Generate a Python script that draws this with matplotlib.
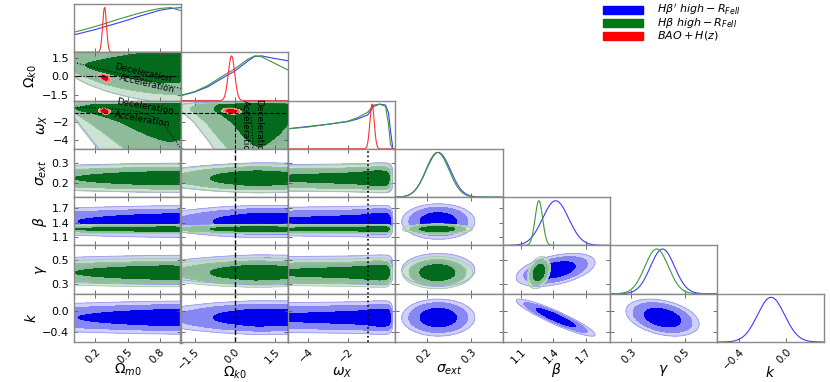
import numpy as np
import matplotlib.pyplot as plt
from matplotlib.patches import Rectangle

plt.rcParams['font.family'] = ['DejaVu Sans']
plt.rcParams['mathtext.fontset'] = 'dejavusans'

# parameters, axis ranges and ticks
names = ['om', 'ok', 'wx', 'sig', 'beta', 'gam', 'k']
axis_labels = [r'$\Omega_{m0}$', r'$\Omega_{k0}$', r'$\omega_X$', r'$\sigma_{ext}$',
               r'$\beta$', r'$\gamma$', r'$k$']
lims = [(0.0, 1.0), (-2.0, 2.0), (-5.0, 0.4), (0.13, 0.37), (0.93, 1.92), (0.22, 0.62), (-0.59, 0.32)]
tick_vals = [[0.2, 0.5, 0.8], [-1.5, 0.0, 1.5], [-4, -2], [0.2, 0.3], [1.1, 1.4, 1.7], [0.3, 0.5], [-0.4, 0.0]]
tick_text = [['0.2', '0.5', '0.8'], ['\u22121.5', '0.0', '1.5'], ['\u22124', '\u22122'], ['0.2', '0.3'],
             ['1.1', '1.4', '1.7'], ['0.3', '0.5'], ['\u22120.4', '0.0']]
cosmo = ['om', 'ok', 'wx']

# 1D marginals of cosmological parameters (quasar samples), read from diagonal, peak = 1
om_grid = [0.0, 0.1, 0.2, 0.3, 0.4, 0.5, 0.6, 0.7, 0.8, 0.9, 1.0]
om_blue = [0.39, 0.45, 0.51, 0.58, 0.65, 0.72, 0.80, 0.87, 0.94, 0.98, 1.0]
om_green = [0.45, 0.51, 0.58, 0.65, 0.73, 0.80, 0.87, 0.93, 0.98, 1.0, 0.93]

ok_grid = [-2.0, -1.5, -1.0, -0.5, 0.0, 0.5, 0.75, 1.0, 1.5, 2.0]
ok_blue = [0.11, 0.19, 0.31, 0.49, 0.66, 0.89, 0.99, 1.0, 0.94, 0.89]
ok_green = [0.12, 0.20, 0.34, 0.53, 0.71, 0.93, 1.0, 0.98, 0.83, 0.68]

wx_grid = [-5.0, -4.0, -3.0, -2.0, -1.5, -1.0, -0.7, -0.4, -0.1, 0.05, 0.15, 0.27, 0.4]
wx_blue = [0.45, 0.50, 0.55, 0.61, 0.67, 0.76, 0.95, 1.0, 0.98, 0.80, 0.40, 0.0, 0.0]
wx_green = [0.45, 0.49, 0.55, 0.62, 0.70, 0.82, 0.98, 1.0, 0.95, 0.55, 0.10, 0.0, 0.0]

cosmo_marg = {'blue': {'om': (om_grid, om_blue), 'ok': (ok_grid, ok_blue), 'wx': (wx_grid, wx_blue)},
              'green': {'om': (om_grid, om_green), 'ok': (ok_grid, ok_green), 'wx': (wx_grid, wx_green)}}

# ridge of the 2D cosmological posteriors: centre and width at the two ends of the x range, plus a broad floor
ridge_c = {('om', 'ok'): (1.2, 0.0), ('om', 'wx'): (-0.45, -2.5), ('ok', 'wx'): (-0.45, -3.0)}
ridge_w = {('om', 'ok'): (0.6, 3.0), ('om', 'wx'): (0.4, 6.0), ('ok', 'wx'): (0.35, 7.0)}
ridge_floor = {('om', 'ok'): 0.12, ('om', 'wx'): 0.25, ('ok', 'wx'): 0.08}

# nuisance parameters (mean, sd)
blue_mu = {'sig': 0.226, 'beta': 1.42, 'gam': 0.417, 'k': -0.13}
blue_sd = {'sig': 0.027, 'beta': 0.12, 'gam': 0.045, 'k': 0.115}
green_mu = {'sig': 0.224, 'beta': 1.265, 'gam': 0.395}
green_sd = {'sig': 0.026, 'beta': 0.035, 'gam': 0.044}
blue_corr = {('beta', 'gam'): 0.45, ('beta', 'k'): -0.92, ('gam', 'k'): -0.35}
green_corr = {('beta', 'gam'): 0.3}

# BAO + H(z)
red_mu = {'om': 0.285, 'ok': -0.12, 'wx': -0.78}
red_sd = {'om': 0.018, 'ok': 0.12, 'wx': 0.11}
red_corr = {('om', 'ok'): -0.5, ('om', 'wx'): -0.2, ('ok', 'wx'): -0.2}

fills = {'blue': [(0.78, 0.78, 0.98, 0.85), (0.51, 0.51, 0.96, 0.95), (0.0, 0.0, 0.93, 1.0)],
         'green': [(0.80, 0.90, 0.80, 0.85), (0.56, 0.75, 0.59, 0.95), (0.02, 0.42, 0.11, 1.0)],
         'red': [(0.96, 0.72, 0.72, 1.0), (0.93, 0.45, 0.45, 1.0), (0.88, 0.0, 0.0, 1.0)]}
edge = {'blue': '#9a9af2', 'green': '#a4cca4', 'red': '#f4a0a0'}
line_col = {'blue': '#3c3cff', 'green': '#3a9a3a', 'red': '#ff3030'}
mass = [0.99, 0.95, 0.68]

legend_colors = ['#0000ff', '#007a10', '#ff0000']
legend_text = [r"$H\beta'\ high - R_{FeII}$", r'$H\beta\ high - R_{FeII}$', r'$BAO + H(z)$']


def gauss(v, m, s):
    return np.exp(-0.5 * ((v - m) / s) ** 2)


def marg(series, p, v):
    if p in cosmo:
        g, d = cosmo_marg[series][p]
        return np.interp(v, g, d)
    if series == 'blue':
        return gauss(v, blue_mu[p], blue_sd[p])
    return gauss(v, green_mu[p], green_sd[p])


def biv(X, Y, mx, my, sx, sy, r):
    u = (X - mx) / sx
    w = (Y - my) / sy
    return np.exp(-(u * u - 2 * r * u * w + w * w) / (2 * (1 - r * r)))


def joint(series, px, py, X, Y):
    if px in cosmo and py in cosmo:
        key = (px, py)
        (x0, x1) = lims[names.index(px)]
        t = (X - x0) / (x1 - x0)
        c = ridge_c[key][0] + t * (ridge_c[key][1] - ridge_c[key][0])
        w = ridge_w[key][0] + t * (ridge_w[key][1] - ridge_w[key][0])
        if series == 'blue':
            w = w * 1.1
        return marg(series, px, X) * marg(series, py, Y) * (gauss(Y, c, w) + ridge_floor[key])
    if px in cosmo:
        return marg(series, px, X) * marg(series, py, Y)
    mu = blue_mu if series == 'blue' else green_mu
    sd = blue_sd if series == 'blue' else green_sd
    cr = blue_corr if series == 'blue' else green_corr
    return biv(X, Y, mu[px], mu[py], sd[px], sd[py], cr.get((px, py), 0.0))


def levels(z):
    flat = np.sort(z.ravel())[::-1]
    cum = np.cumsum(flat)
    cum /= cum[-1]
    return [flat[min(np.searchsorted(cum, f), len(flat) - 1)] for f in mass]


def draw2d(ax, X, Y, Z, series):
    lv = levels(Z) + [Z.max() * 1.01]
    ax.contourf(X, Y, Z, levels=lv, colors=fills[series])
    ax.contour(X, Y, Z, levels=lv[:1], colors=edge[series], linewidths=0.6)


def has(series, p):
    if series == 'red':
        return p in red_mu
    if series == 'green':
        return p in cosmo or p in green_mu
    return True


fig = plt.figure(figsize=(8.3, 3.82), dpi=100)
gs = fig.add_gridspec(7, 7, left=0.0892, right=0.9928, top=0.9895, bottom=0.1047, wspace=0, hspace=0)

for i in range(7):
    for j in range(i + 1):
        ax = fig.add_subplot(gs[i, j])
        px, py = names[j], names[i]
        xl = lims[j]
        ax.set_xlim(xl)
        if i == j:
            for s in ['blue', 'green', 'red']:
                if not has(s, px):
                    continue
                if s == 'red':
                    xs = np.linspace(xl[0], xl[1], 600)
                    ax.plot(xs, gauss(xs, red_mu[px], red_sd[px]), color=line_col[s], lw=0.8)
                elif px in cosmo:
                    g, d = cosmo_marg[s][px]
                    ax.plot(g, d, color=line_col[s], lw=0.8)
                else:
                    xs = np.linspace(xl[0], xl[1], 300)
                    ax.plot(xs, marg(s, px, xs), color=line_col[s], lw=0.8)
            ax.set_ylim(0, 1.08)
            ax.set_yticks([])
            ax.tick_params(axis='x', direction='in', length=3, width=0.6, color='#555555')
        else:
            yl = lims[i]
            ax.set_ylim(yl)
            xs = np.linspace(xl[0], xl[1], 220)
            ys = np.linspace(yl[0], yl[1], 220)
            X, Y = np.meshgrid(xs, ys)
            for s in ['blue', 'green']:
                if has(s, px) and has(s, py):
                    draw2d(ax, X, Y, joint(s, px, py, X, Y), s)
            if has('red', px) and has('red', py):
                rx = np.linspace(red_mu[px] - 5 * red_sd[px], red_mu[px] + 5 * red_sd[px], 150)
                ry = np.linspace(red_mu[py] - 5 * red_sd[py], red_mu[py] + 5 * red_sd[py], 150)
                RX, RY = np.meshgrid(rx, ry)
                RZ = biv(RX, RY, red_mu[px], red_mu[py], red_sd[px], red_sd[py], red_corr[(px, py)])
                draw2d(ax, RX, RY, RZ, 'red')
            ax.set_yticks(tick_vals[i])
            ax.tick_params(direction='in', length=3, width=0.6, color='#555555', top=True, right=True)
            # reference lines
            if (px, py) == ('om', 'ok'):
                ax.axhline(0, color='k', ls='-.', lw=0.8)
                ax.plot([0.0, 1.0], [1.15, -1.0], color='k', ls=':', lw=0.8)
                ax.text(0.64, 0.3, 'Deceleration', rotation=-13, fontsize=6.5, ha='center', va='center')
                ax.text(0.68, -0.65, 'Acceleration', rotation=-13, fontsize=6.5, ha='center', va='center')
            if (px, py) == ('om', 'wx'):
                ax.axhline(-1, color='k', ls='--', lw=0.8)
                ax.plot([0.0, 0.2, 0.4, 0.6, 0.8, 0.9, 1.0], [-0.33, -0.42, -0.56, -0.83, -1.67, -3.3, -5.0],
                        color='k', ls=':', lw=0.8)
                ax.text(0.66, -0.28, 'Deceleration', rotation=-10, fontsize=6.5, ha='center', va='center')
                ax.text(0.64, -1.7, 'Acceleration', rotation=-10, fontsize=6.5, ha='center', va='center')
            if (px, py) == ('ok', 'wx'):
                ax.axvline(0, color='k', ls='--', lw=0.8)
                ax.axhline(-1, color='k', ls='--', lw=0.8)
                ax.plot([0.1, 0.43, 0.55, 0.64, 0.68], [-0.5, -0.7, -1.0, -2.0, -5.0], color='k', ls=':', lw=0.8)
                ax.text(0.38, -2.7, 'Acceleration', rotation=-90, fontsize=6.5, ha='center', va='center')
                ax.text(0.88, -2.7, 'Deceleration', rotation=-90, fontsize=6.5, ha='center', va='center')
            if px == 'ok' and py not in cosmo:
                ax.axvline(0, color='k', ls='--', lw=1.0)
            if px == 'wx' and py not in cosmo:
                ax.axvline(-1, color='k', ls=':', lw=1.2)
        ax.set_xticks(tick_vals[j])
        for sp in ax.spines.values():
            sp.set_color('#888888')
            sp.set_linewidth(1.0)
        if j == 1 and i >= 2:
            ax.spines['right'].set_color('k')
        if j == 0 and i >= 3:
            ax.spines['right'].set_linewidth(2.5)
        if i == 6:
            ax.set_xticklabels(tick_text[j], rotation=45, ha='right', rotation_mode='anchor', fontsize=7.5)
            ax.set_xlabel(axis_labels[j], fontsize=10)
            drop = -0.64 if tick_text[j][0].startswith('\u2212') else -0.58
            ax.xaxis.set_label_coords(0.5, drop)
            ax.xaxis.label.set_va('center')
        else:
            ax.set_xticklabels([])
        if j == 0 and i > 0:
            ax.set_yticklabels(tick_text[i], fontsize=8)
            ax.set_ylabel(axis_labels[i], fontsize=10, labelpad=2)
        elif i != j:
            ax.set_yticklabels([])

# legend: colour bars with labels, top right
for n in range(3):
    yc = 1 - (10 + 13 * n) / 382
    fig.patches.append(Rectangle((603 / 830, yc - 3.5 / 382), 40 / 830, 7 / 382,
                                 transform=fig.transFigure, color=legend_colors[n]))
    fig.text(657 / 830, yc, legend_text[n], fontsize=8, ha='left', va='center')

fig.savefig('out.png', dpi=100)
